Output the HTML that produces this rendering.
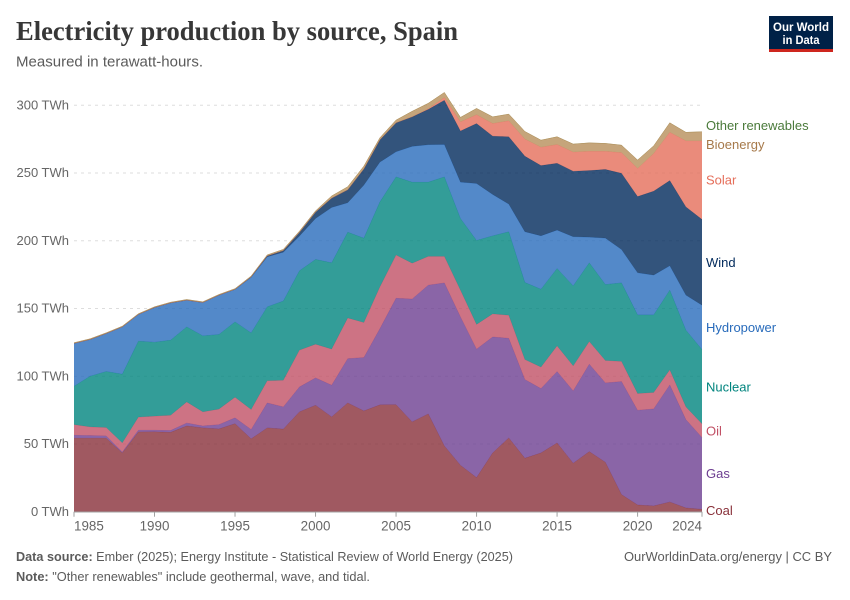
<!DOCTYPE html>
<html lang="en">
<head>
<meta charset="utf-8">
<title>Electricity production by source, Spain</title>
<style>
html,body{margin:0;padding:0;background:#fff;}
svg{display:block;font-family:"Liberation Sans",Arial,sans-serif;}
</style>
</head>
<body>
<svg id="chart" xmlns="http://www.w3.org/2000/svg" width="850" height="600" viewBox="0 0 850 600">
  <rect x="0" y="0" width="850" height="600" fill="#fff"/>
  <text x="16" y="40" font-family="'Liberation Serif',serif" font-weight="700" font-size="27" fill="#373737" textLength="442" lengthAdjust="spacingAndGlyphs">Electricity production by source, Spain</text>
  <text x="16" y="66.5" font-size="14.5" fill="#5b5b5b" textLength="187" lengthAdjust="spacingAndGlyphs">Measured in terawatt-hours.</text>
  <g>
    <rect x="769" y="16" width="64" height="36" fill="#002147"/>
    <rect x="769" y="49" width="64" height="3" fill="#ce261e"/>
    <text x="801" y="31" text-anchor="middle" font-size="12" font-weight="700" fill="#fff" textLength="56" lengthAdjust="spacingAndGlyphs">Our World</text>
    <text x="801" y="44" text-anchor="middle" font-size="12" font-weight="700" fill="#fff" textLength="37" lengthAdjust="spacingAndGlyphs">in Data</text>
  </g>
  <g id="grid"></g>
  <g id="areas"></g>
  <g id="axes"></g>
  <g id="labels"></g>
  <text x="16" y="561" font-size="13" fill="#5b5b5b" textLength="497" lengthAdjust="spacingAndGlyphs"><tspan font-weight="700">Data source:</tspan> Ember (2025); Energy Institute - Statistical Review of World Energy (2025)</text>
  <text x="832" y="561" text-anchor="end" font-size="13" fill="#5b5b5b" textLength="208" lengthAdjust="spacingAndGlyphs">OurWorldinData.org/energy | CC BY</text>
  <text x="16" y="581" font-size="13" fill="#5b5b5b" textLength="354" lengthAdjust="spacingAndGlyphs"><tspan font-weight="700">Note:</tspan> "Other renewables" include geothermal, wave, and tidal.</text>
</svg>
<script>
var years = [1985,1986,1987,1988,1989,1990,1991,1992,1993,1994,1995,1996,1997,1998,1999,2000,2001,2002,2003,2004,2005,2006,2007,2008,2009,2010,2011,2012,2013,2014,2015,2016,2017,2018,2019,2020,2021,2022,2023,2024];
var coal = [54.3,54.3,54.3,43.4,58.9,59,58.6,63.3,61.9,61.1,65,53.8,61.9,61,73.7,78.6,70,80.3,74.4,78.9,79,66.3,72.2,48.6,34.3,25.2,43.4,54.5,39.5,43.4,50.8,35.8,44.4,36.5,12.7,5,4.3,7.2,2.8,1.8];
var gas = [2.2,1.9,1.7,0.7,1.3,1.2,1.4,2.2,1.4,3.2,4.3,6.9,18.4,16.4,18.4,20.2,23.4,32.7,39.4,56.3,78.6,90.7,95,120.3,109.5,94.8,85.6,73.5,58.1,47.5,52.7,53.4,64.5,58.6,83.4,69.9,71.6,86.4,65.2,53];
var oil = [7.8,6.4,6.1,6.7,9.6,10.3,11.2,15.5,10.4,11.4,15.2,14.7,16.3,19.6,27.1,24.8,26.6,30,25.8,30.8,31.8,26.4,21.2,19.5,19.7,18.2,17,17,14.7,15.8,18.9,18.4,16.7,16.5,14.8,12.3,12.1,11.1,9.4,10];
var nuclear = [28.3,37.4,41.4,50.7,56.1,54.6,55.4,55.4,56.1,55.1,55.6,56.6,54.6,58.5,58.6,62.6,63.7,63.3,62.3,62.7,57.7,59.8,54.8,58.7,52.9,62,57.6,61.6,56.9,57.5,57.1,59.1,58.1,56.1,58,58.1,57.3,58.8,56.6,54.9];
var hydropower = [31.6,27.1,28,34.9,19.7,25.6,27.5,19.7,24.6,29,23.9,40.9,36.9,36,25.6,30.2,40.8,21.7,39.1,29.3,18.5,26.4,27.6,23.9,26.8,42,30.5,20.4,37.4,39.4,28.3,36.2,18.9,34.2,24.6,31,29.3,18,25.8,32.7];
var wind = [0,0,0,0,0,0,0,0,0,0,0.1,0.4,0.7,1.3,2.7,4.7,6.9,9.6,12,16.5,21.4,21.8,26.1,32.7,37.8,44.3,43.1,49.7,55.8,51.9,49.4,48.4,49.2,50.7,56.3,56.3,62,62.9,65.2,63.3];
var solar = [0,0,0,0,0,0,0,0,0,0,0,0,0,0,0,0,0,0,0,0,0,0.1,0.5,2,6.7,6.5,9.3,11.8,12.6,13.5,13.8,14.1,14.2,13.4,15.2,20.7,27.8,35.6,48.7,58];
var bioenergy = [0.5,0.5,0.5,0.5,0.5,0.5,0.5,0.5,0.5,0.5,0.5,0.6,0.7,0.8,0.9,0.9,1.6,2.2,2,1.5,2,4,4,3.7,3.3,4.6,4.9,4.9,5.6,5.2,5.7,5.9,6.2,5.8,5.5,6.2,5.6,7,6.3,6.7];
var otherRenewables = [0.02,0.02,0.02,0.02,0.02,0.02,0.02,0.02,0.02,0.02,0.02,0.02,0.02,0.02,0.02,0.02,0.02,0.02,0.02,0.02,0.02,0.02,0.02,0.02,0.02,0.02,0.02,0.02,0.02,0.02,0.02,0.02,0.02,0.02,0.02,0.02,0.02,0.02,0.02,0.02];
var seriesNames = ["Coal","Gas","Oil","Nuclear","Hydropower","Wind","Solar","Bioenergy","Other renewables"];
var seriesValues = [coal,gas,oil,nuclear,hydropower,wind,solar,bioenergy,otherRenewables];
var seriesColors = ["#883039","#6d3e91","#c15065","#00847e","#286bbb","#00295b","#e56e5a","#b78e5a","#a08a50"];
var labelColors = ["#883039","#6d3e91","#c15065","#00847e","#286bbb","#00295b","#e56e5a","#a6794a","#4a7a3a"];
var yTicks = [0,50,100,150,200,250,300];
var xTicks = [1985,1990,1995,2000,2005,2010,2015,2020,2024];

var SVG_NS = "http://www.w3.org/2000/svg";
var left = 74, right = 702, y0 = 511.7, pxPerUnit = 1.355;
function xScale(year){ return left + (year - years[0]) * (right - left) / (years[years.length - 1] - years[0]); }
function yScale(v){ return y0 - v * pxPerUnit; }
function slug(s){ return s.toLowerCase().replace(/\s+/g, "-"); }
function make(tag, attrs, parent){
  var el = document.createElementNS(SVG_NS, tag);
  for (var k in attrs) el.setAttribute(k, attrs[k]);
  parent.appendChild(el);
  return el;
}

var gridG = document.getElementById("grid");
yTicks.forEach(function(t){
  if (t === 0) return;
  var line = make("line", {x1:left, x2:right, y1:yScale(t), y2:yScale(t), stroke:"#dddddd", "stroke-width":1, "stroke-dasharray":"3,4"}, gridG);
  
  
});

var areasG = document.getElementById("areas");
var baseline = years.map(function(){ return 0; });
var bands = [];
seriesValues.forEach(function(vals, s){
  var tops = vals.map(function(v, i){ return baseline[i] + v; });
  var top = tops.map(function(v, i){ return xScale(years[i]).toFixed(2) + "," + yScale(v).toFixed(2); });
  var bottom = baseline.map(function(v, i){ return xScale(years[i]).toFixed(2) + "," + yScale(v).toFixed(2); }).reverse();
  var area = make("polygon", {points:top.concat(bottom).join(" "), fill:seriesColors[s], "fill-opacity":0.8, stroke:"none"}, areasG);
  
  
  var edge = make("polyline", {points:top.join(" "), fill:"none", stroke:seriesColors[s], "stroke-width":0.5, "stroke-opacity":0.7}, areasG);
  
  
  bands.push((baseline[baseline.length - 1] + tops[tops.length - 1]) / 2);
  baseline = tops;
});

var axesG = document.getElementById("axes");
var axisLine = make("line", {x1:left, x2:right, y1:y0 + 0.3, y2:y0 + 0.3, stroke:"#a1a1a1", "stroke-width":1}, axesG);


yTicks.forEach(function(t){
  var label = make("text", {x:69, y:yScale(t) + 4.2, "text-anchor":"end", "font-size":13, fill:"#666666"}, axesG);
  label.textContent = t + " TWh";
  
  
});
xTicks.forEach(function(t, i){
  var x = xScale(t);
  var tick = make("line", {x1:x, x2:x, y1:y0, y2:y0 + 5, stroke:"#a1a1a1", "stroke-width":1}, axesG);
  
  
  var anchor = i === 0 ? "start" : (i === xTicks.length - 1 ? "end" : "middle");
  var label = make("text", {x:x, y:530.5, "text-anchor":anchor, "font-size":13.4, fill:"#666666"}, axesG);
  label.textContent = t;
  
  
});

var labelsG = document.getElementById("labels");
var placed = bands.map(function(b){ return yScale(b); });
/* push the two thin top bands apart so their labels do not collide, as the source layout does */
var solarIndex = seriesNames.indexOf("Solar");
var minGap = 19;
for (var i = solarIndex + 1; i < placed.length; i++) {
  if (i === seriesNames.indexOf("Bioenergy")) {
    placed[i] = yScale(bands[i]) + 8;
  } else {
    placed[i] = Math.min(placed[i], placed[i - 1] - minGap);
  }
}
seriesNames.forEach(function(name, s){
  var t = make("text", {x:706, y:placed[s] + 4.6, "font-size":13, fill:labelColors[s]}, labelsG);
  t.textContent = name;
  
  
});
</script>
</body>
</html>
